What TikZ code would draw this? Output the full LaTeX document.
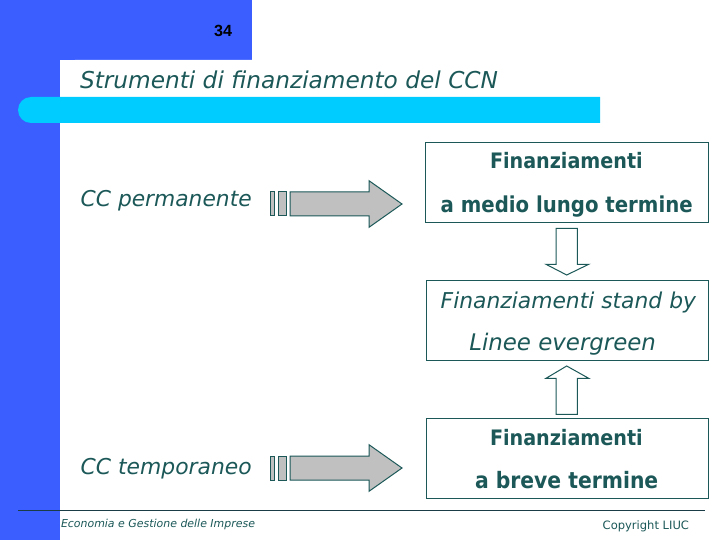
\documentclass[tikz,border=0pt]{standalone}
\usepackage{fontspec}
\setmainfont{DejaVu Sans}
\newfontfamily\arialfont{Liberation Sans}
\newfontfamily\condfont{DejaVu Sans Condensed}
\usetikzlibrary{calc}
\definecolor{slideblue}{RGB}{58,94,255}
\definecolor{barcyan}{RGB}{0,204,255}
\definecolor{inkteal}{RGB}{28,88,88}
\definecolor{arrowgray}{RGB}{192,192,192}
\newcommand{\fitw}[2]{\resizebox{#1pt}{!}{#2}}
\begin{document}
\begin{tikzpicture}[x=1pt,y=-1pt,
  txt/.style={inner sep=0pt, outer sep=0pt, anchor=base west, text=inkteal},
  box/.style={draw=inkteal, line width=1pt, minimum width=282.7pt, minimum height=79.5pt, inner sep=0pt},
  bigarrow/.style={draw=inkteal, line width=1pt, fill=arrowgray, line join=miter},
  hollowarrow/.style={draw=inkteal, line width=1pt, fill=white, line join=miter}]
\useasboundingbox (0,0) rectangle (720,540);
\fill[white] (0,0) rectangle (720,540);
% background frame
\fill[slideblue] (0,0) rectangle (252,60);
\fill[slideblue] (0,0) rectangle (60,540);
\fill[white] (60,540) -- (60,75) arc[start angle=180, end angle=270, radius=15] -- (260,60) -- (260,540) -- cycle;
\fill[barcyan] (600,97) -- (31,97) arc[start angle=270, end angle=90, radius=13] -- (600,123) -- cycle;
% page number and title
\node[txt, text=black] (pg) at (214,36.7) {\fitw{18}{\arialfont\bfseries 34}};
\node[txt] (title) at (80,88.3) {\fitw{418}{\itshape Strumenti di finanziamento del CCN}};
% left labels
\node[txt] (ccp) at (80.7,206.7) {\fitw{171}{\itshape CC permanente}};
\node[txt] (cct) at (80.7,474.5) {\fitw{171}{\itshape CC temporaneo}};
% boxes
\node[box] (b1) at (567.3,182.3) {};
\node[box] (b2) at (567.5,320.7) {};
\node[box] (b3) at (567.5,458.5) {};
\node[txt] (b1a) at (490,169) {\fitw{152.7}{\condfont\bfseries Finanziamenti}};
\node[txt] (b1b) at (440.7,212.5) {\fitw{252}{\condfont\bfseries a medio lungo termine}};
\node[txt] (b2a) at (440.7,308.7) {\fitw{255.3}{\itshape Finanziamenti stand by}};
\node[txt] (b2b) at (469.3,350) {\fitw{186.7}{\itshape Linee evergreen}};
\node[txt] (b3a) at (490,445) {\fitw{152.7}{\condfont\bfseries Finanziamenti}};
\node[txt] (b3b) at (475,488.3) {\fitw{183.3}{\condfont\bfseries a breve termine}};
% striped block arrows
\foreach \dy in {0,264}{
  \begin{scope}[shift={(0,\dy)}]
    \draw[bigarrow] (270,192) rectangle (274,216);
    \draw[bigarrow] (278,192) rectangle (286,216);
    \draw[bigarrow] (290,192) -- (369,192) -- (369,180.7) -- (402,204) -- (369,227.3) -- (369,216) -- (290,216) -- cycle;
  \end{scope}
}
% hollow arrows between boxes
\draw[hollowarrow] (556,228.3) -- (577.3,228.3) -- (577.3,264.3) -- (588.7,264.3) -- (566.7,275) -- (546,264.3) -- (556,264.3) -- cycle;
\draw[hollowarrow] (556,414.3) -- (577.3,414.3) -- (577.3,378.3) -- (588.7,378.3) -- (566.7,366) -- (546,378.3) -- (556,378.3) -- cycle;
% footer
\coordinate (fl) at (18,510);
\coordinate (fr) at (705,510);
\draw[line width=1pt, color={rgb,255:red,25;green,60;blue,70}] (fl) -- (fr);
\node[txt] (foot) at (61,527) {\fitw{194}{\itshape Economia e Gestione delle Imprese}};
\node[txt] (copy) at (602.7,529) {\fitw{86.3}{Copyright LIUC}};
\end{tikzpicture}
\end{document}
